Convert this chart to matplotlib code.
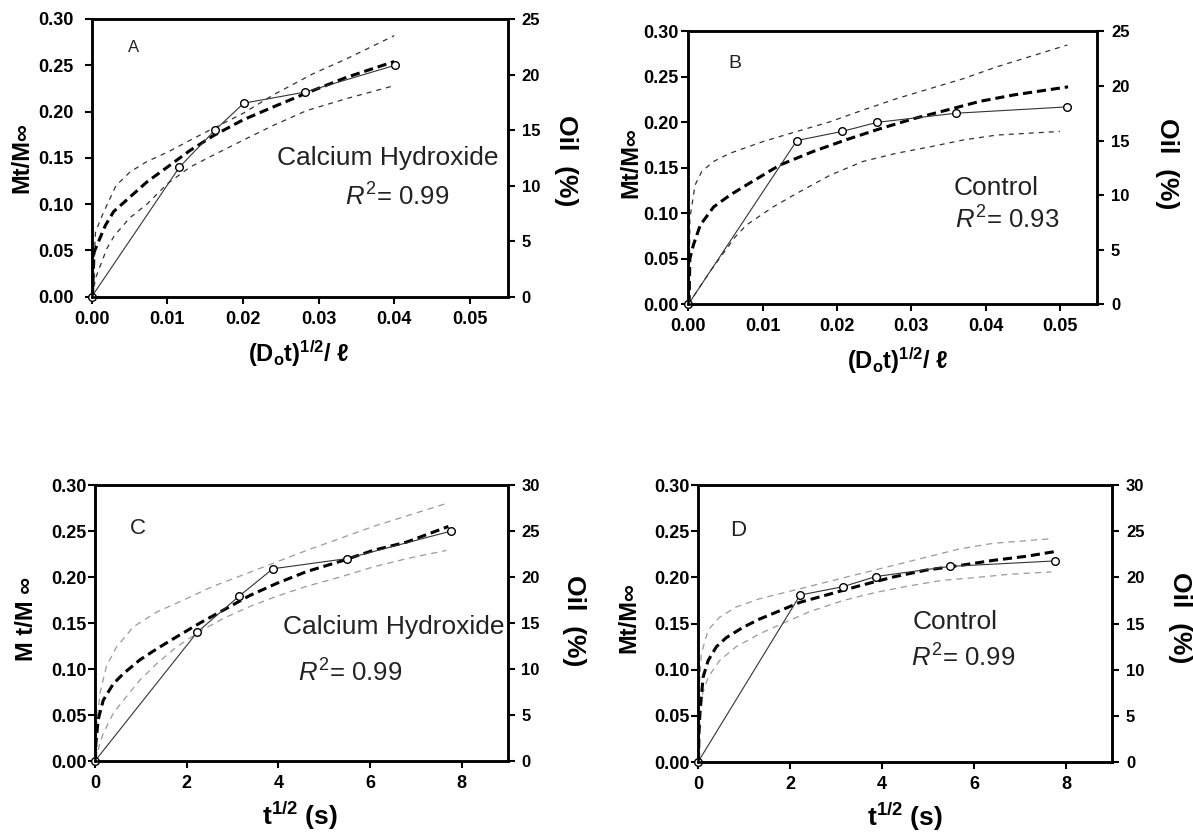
import matplotlib
matplotlib.use("Agg")
import matplotlib.pyplot as plt

plt.rcParams['font.family'] = ['Liberation Sans', 'DejaVu Sans']
plt.rcParams['mathtext.fontset'] = 'custom'
plt.rcParams['mathtext.rm'] = 'Liberation Sans'
plt.rcParams['mathtext.it'] = 'Liberation Sans:italic'
plt.rcParams['mathtext.bf'] = 'Liberation Sans:bold'

# ---------------- Panel A (Calcium Hydroxide, (Dot)^1/2 / l) ----------------
a_x = [0, 0.0116, 0.0163, 0.0201, 0.0282, 0.0401]
a_y = [0, 0.14, 0.18, 0.209, 0.221, 0.25]
a_fit_x = [0.0001, 0.0003, 0.0018, 0.0029, 0.0051, 0.0073, 0.010, 0.013, 0.0161, 0.020, 0.024, 0.0284, 0.0337, 0.040]
a_fit_y = [0.0, 0.048, 0.077, 0.092, 0.108, 0.124, 0.140, 0.158, 0.174, 0.191, 0.205, 0.220, 0.237, 0.254]
a_up_x = [0.0001, 0.0005, 0.0015, 0.0032, 0.0051, 0.0073, 0.010, 0.013, 0.0161, 0.020, 0.024, 0.0293, 0.0337, 0.040]
a_up_y = [0.0, 0.07, 0.09, 0.12, 0.135, 0.146, 0.156, 0.169, 0.182, 0.198, 0.218, 0.241, 0.257, 0.282]
a_lo_x = [0.0001, 0.0005, 0.002, 0.003, 0.005, 0.0073, 0.010, 0.013, 0.0161, 0.020, 0.024, 0.0284, 0.0337, 0.040]
a_lo_y = [0.0, 0.02, 0.052, 0.066, 0.085, 0.10, 0.122, 0.140, 0.153, 0.169, 0.185, 0.201, 0.214, 0.228]

# ---------------- Panel B (Control, (Dot)^1/2 / l) ----------------
b_x = [0, 0.0146, 0.0207, 0.0254, 0.0360, 0.0510]
b_y = [0, 0.18, 0.19, 0.20, 0.21, 0.217]
b_fit_x = [0.0001, 0.0002, 0.00067, 0.0016, 0.0034, 0.0056, 0.0078, 0.0123, 0.0168, 0.0213, 0.0258, 0.0303, 0.0348, 0.0392, 0.0437, 0.0511]
b_fit_y = [0.0, 0.05, 0.065, 0.087, 0.107, 0.120, 0.131, 0.153, 0.168, 0.181, 0.193, 0.204, 0.2135, 0.223, 0.230, 0.239]
b_up_x = [0.0001, 0.0002, 0.0009, 0.0018, 0.0034, 0.0056, 0.0101, 0.0146, 0.0191, 0.0235, 0.028, 0.0325, 0.037, 0.0415, 0.051]
b_up_y = [0.0, 0.094, 0.131, 0.146, 0.157, 0.166, 0.179, 0.190, 0.2007, 0.2135, 0.226, 0.237, 0.248, 0.261, 0.285]
b_lo_x = [0, 0.003, 0.0063, 0.0078, 0.0114, 0.0146, 0.0191, 0.0235, 0.028, 0.0325, 0.037, 0.0415, 0.050]
b_lo_y = [0, 0.037, 0.074, 0.087, 0.107, 0.122, 0.142, 0.157, 0.166, 0.173, 0.1806, 0.186, 0.190]

# ---------------- Panel C (Calcium Hydroxide, t^1/2) ----------------
c_x = [0, 2.23, 3.14, 3.88, 5.49, 7.77]
c_y = [0, 0.14, 0.179, 0.209, 0.22, 0.25]
c_fit_x = [0.01, 0.02, 0.07, 0.18, 0.4, 0.62, 0.98, 1.35, 1.78, 2.29, 2.8, 3.38, 3.96, 4.62, 5.35, 6.07, 6.8, 7.71]
c_fit_y = [0.0, 0.019, 0.045, 0.066, 0.084, 0.095, 0.110, 0.122, 0.135, 0.150, 0.164, 0.180, 0.193, 0.206, 0.217, 0.229, 0.238, 0.255]
c_up_x = [0.01, 0.04, 0.11, 0.25, 0.47, 0.84, 1.35, 1.93, 2.58, 3.16, 3.89, 4.62, 5.35, 6.07, 7.67]
c_up_y = [0.0, 0.041, 0.074, 0.103, 0.124, 0.146, 0.162, 0.175, 0.190, 0.201, 0.215, 0.229, 0.242, 0.255, 0.280]
c_lo_x = [0.01, 0.04, 0.18, 0.4, 0.62, 0.98, 1.35, 1.78, 2.29, 2.8, 3.38, 3.96, 4.62, 5.35, 6.07, 6.8, 7.67]
c_lo_y = [0.0, 0.008, 0.030, 0.052, 0.066, 0.088, 0.106, 0.124, 0.141, 0.155, 0.168, 0.179, 0.190, 0.200, 0.211, 0.220, 0.229]

# ---------------- Panel D (Control, t^1/2) ----------------
d_x = [0, 2.22, 3.15, 3.86, 5.47, 7.77]
d_y = [0, 0.181, 0.19, 0.201, 0.212, 0.218]
d_fit_x = [0.01, 0.02, 0.04, 0.11, 0.22, 0.4, 0.62, 0.98, 1.34, 1.78, 2.21, 2.79, 3.51, 4.24, 4.96, 5.69, 6.41, 7.14, 7.75]
d_fit_y = [0.0, 0.03, 0.052, 0.092, 0.110, 0.125, 0.135, 0.146, 0.155, 0.164, 0.173, 0.181, 0.191, 0.2005, 0.208, 0.213, 0.2185, 0.223, 0.228]
d_up_x = [0.01, 0.02, 0.07, 0.22, 0.47, 0.83, 1.34, 2.07, 2.79, 3.51, 4.24, 4.96, 5.69, 6.41, 7.68]
d_up_y = [0.0, 0.074, 0.117, 0.143, 0.157, 0.168, 0.177, 0.186, 0.195, 0.204, 0.213, 0.222, 0.231, 0.237, 0.242]
d_lo_x = [0.01, 0.02, 0.07, 0.22, 0.47, 0.83, 1.34, 1.92, 2.43, 3.15, 3.88, 4.6, 5.32, 6.05, 6.77, 7.68]
d_lo_y = [0.0, 0.031, 0.070, 0.092, 0.110, 0.125, 0.139, 0.152, 0.163, 0.175, 0.184, 0.191, 0.197, 0.2, 0.2035, 0.206]

# Ticks
y_ticks = [0.00, 0.05, 0.10, 0.15, 0.20, 0.25, 0.30]
y_ticklabels = ["0.00", "0.05", "0.10", "0.15", "0.20", "0.25", "0.30"]
ab_xticks = [0.00, 0.01, 0.02, 0.03, 0.04, 0.05]
ab_xticklabels = ["0.00", "0.01", "0.02", "0.03", "0.04", "0.05"]
cd_xticks = [0, 2, 4, 6, 8]
ab_right = [0, 5, 10, 15, 20, 25]
cd_right = [0, 5, 10, 15, 20, 25, 30]

fig = plt.figure(figsize=(11.93, 8.32), dpi=100)


def draw_panel(rect, x, y, fx, fy, ux, uy, lx, ly, xlim, xticks, xticklabels,
               right_max, right_ticks, band_color, band_dash, ylabel, xlabel, xlabel_size,
               letter, letter_pos, letter_size, group, group_pos, r2, r2_pos, lab_pos, ypad):
    ax = fig.add_axes(rect)
    ax.plot(ux, uy, color=band_color, lw=0.9, dashes=band_dash)
    ax.plot(lx, ly, color=band_color, lw=0.9, dashes=band_dash)
    ax.plot(fx, fy, color='black', lw=2.2, dashes=(3, 1.6))
    ax.plot(x, y, color='#333333', lw=0.8, marker='o', ms=5.5,
            mfc='white', mec='black', mew=1.0, clip_on=False, zorder=5)
    ax.set_xlim(xlim)
    ax.set_ylim(0, 0.30)
    ax.set_xticks(xticks)
    ax.set_xticklabels(xticklabels)
    ax.set_yticks(y_ticks)
    ax.set_yticklabels(y_ticklabels)
    for s in ax.spines.values():
        s.set_linewidth(1.8)
    ax.tick_params(direction='out', length=5, width=1.5, labelsize=13, pad=5)
    ax.tick_params(axis='y', pad=ypad)
    for t in ax.get_xticklabels() + ax.get_yticklabels():
        t.set_fontweight('bold')

    # right axis (%) Oil
    ax2 = ax.twinx()
    ax2.set_ylim(0, right_max)
    ax2.set_yticks(right_ticks)
    ax2.tick_params(direction='out', length=5, width=1.5, labelsize=12, pad=5)
    for t in ax2.get_yticklabels():
        t.set_fontweight('bold')
    for s in ax2.spines.values():
        s.set_linewidth(1.8)

    ax.set_ylabel(ylabel, fontsize=17, fontweight='bold')
    ax.yaxis.set_label_coords(lab_pos[0], lab_pos[1])
    ax.set_xlabel(xlabel, fontsize=xlabel_size, fontweight='bold')
    ax.xaxis.set_label_coords(lab_pos[2], lab_pos[3])
    ax2.set_ylabel("Oil  (%)", fontsize=19, fontweight='bold', rotation=270)
    ax2.yaxis.set_label_coords(lab_pos[4], lab_pos[5])

    ax.text(letter_pos[0], letter_pos[1], letter, transform=ax.transAxes,
            fontsize=letter_size, color='#222222', ha='left', va='center')
    ax.text(group_pos[0], group_pos[1], group, transform=ax.transAxes,
            fontsize=19, color='#222222', ha='left', va='center')
    ax.text(r2_pos[0], r2_pos[1], r"$R^2$= " + r2, transform=ax.transAxes,
            fontsize=18.5, color='#222222', ha='left', va='center')
    return ax


dl_label = r"(D$_\mathbf{o}$t)$^\mathbf{1/2}$/ ℓ"
t_label = r"t$^\mathbf{1/2}$ (s)"

# A
draw_panel([0.0769, 0.6434, 0.3487, 0.3338], a_x, a_y, a_fit_x, a_fit_y,
           a_up_x, a_up_y, a_lo_x, a_lo_y, (0, 0.055), ab_xticks, ab_xticklabels,
           25, ab_right, '#333333', (4, 4), "Mt/M∞", dl_label, 17,
           "A", (0.087, 0.897), 12, "Calcium Hydroxide", (0.445, 0.50),
           "0.99", (0.609, 0.358), (-0.141, 0.50, 0.498, -0.149, 1.17, 0.49), 8)

# B
draw_panel([0.5770, 0.6343, 0.3426, 0.3280], b_x, b_y, b_fit_x, b_fit_y,
           b_up_x, b_up_y, b_lo_x, b_lo_y, (0, 0.055), ab_xticks, ab_xticklabels,
           25, ab_right, '#333333', (4, 4), "Mt/M∞", dl_label, 17,
           "B", (0.097, 0.884), 14, "Control", (0.648, 0.426),
           "0.93", (0.653, 0.309), (-0.113, 0.518, 0.511, -0.149, 1.20, 0.516), 2)

# C
draw_panel([0.0796, 0.0853, 0.3458, 0.3317], c_x, c_y, c_fit_x, c_fit_y,
           c_up_x, c_up_y, c_lo_x, c_lo_y, (0, 9), cd_xticks, [str(v) for v in cd_xticks],
           30, cd_right, '#9a9a9a', (5, 4), "M t/M ∞", t_label, 19,
           "C", (0.085, 0.844), 16, "Calcium Hydroxide", (0.456, 0.486),
           "0.99", (0.492, 0.319), (-0.138, 0.514, 0.497, -0.141, 1.19, 0.51), 1)

# D
draw_panel([0.5851, 0.0841, 0.3470, 0.3327], d_x, d_y, d_fit_x, d_fit_y,
           d_up_x, d_up_y, d_lo_x, d_lo_y, (0, 9), cd_xticks, [str(v) for v in cd_xticks],
           30, cd_right, '#9a9a9a', (5, 4), "Mt/M∞", t_label, 19,
           "D", (0.077, 0.838), 16, "Control", (0.519, 0.505),
           "0.99", (0.514, 0.375), (-0.14, 0.523, 0.50, -0.14, 1.193, 0.52), 1)

fig.savefig("out.png", dpi=100)
